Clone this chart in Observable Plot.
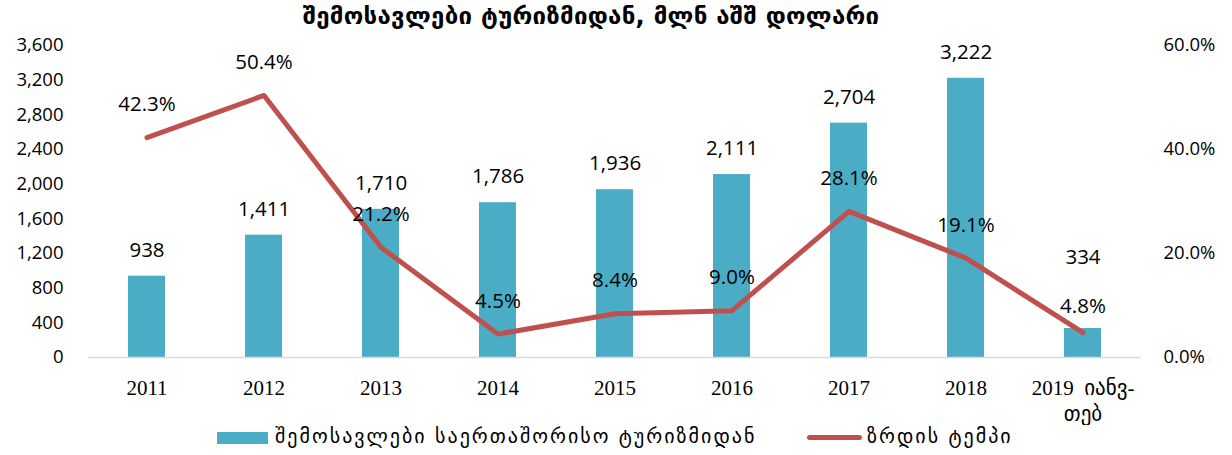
<!DOCTYPE html>
<html><head><meta charset="utf-8">
<script src="https://cdn.jsdelivr.net/npm/d3@7"></script>
<script src="https://cdn.jsdelivr.net/npm/@observablehq/plot@0.6"></script>
<style>
body{margin:0;background:#fff;width:1232px;height:455px;position:relative;overflow:hidden;font-family:"DejaVu Sans",sans-serif;}
#title{position:absolute;top:2px;left:0;width:1182px;text-align:center;font-weight:bold;font-size:24px;letter-spacing:0.3px;color:#000;z-index:2;}
#chart{position:absolute;top:25px;left:0;z-index:1;}
.leg{position:absolute;font-size:20px;letter-spacing:2px;color:#000;white-space:nowrap;}
</style></head><body>
<div id="title">შემოსავლები ტურიზმიდან, მლნ აშშ დოლარი</div>
<div id="chart"></div>
<div class="leg" style="left:217px;top:432px;width:51px;height:12px;background:#4BACC6"></div>
<div class="leg" style="left:275px;top:424px;">შემოსავლები საერთაშორისო ტურიზმიდან</div>
<div class="leg" style="left:807px;top:435px;width:55px;height:5px;background:#C0504D;border-radius:2.5px"></div>
<div class="leg" style="left:867px;top:424px;">ზრდის ტემპი</div>
<script>
const categories = ["2011","2012","2013","2014","2015","2016","2017","2018","2019  იანვ-\nთებ"];
const revenue = [938,1411,1710,1786,1936,2111,2704,3222,334];
const growth = [42.3,50.4,21.2,4.5,8.4,9.0,28.1,19.1,4.8];
const leftTicks = [0,400,800,1200,1600,2000,2400,2800,3200,3600];
const rightTicks = [0,20,40,60];

const K = 3600/60;
const data = categories.map((c,i)=>({cat:c, rev:revenue[i], g:growth[i], gy:growth[i]*K, last:i===categories.length-1}));
const fmt = d3.format(",");
const tickFont = "'Open Sans', 'DejaVu Sans', sans-serif";
const main = data.filter(d=>!d.last), tail = data.filter(d=>d.last);

const chart = Plot.plot({
  width:1232, height:400,
  marginLeft:88, marginRight:91, marginTop:20, marginBottom:68,
  style:{fontSize:"18px", fontFamily:tickFont, color:"#000", background:"transparent"},
  x:{type:"band", domain:categories, paddingInner:0.68, paddingOuter:0.34},
  y:{domain:[0,3600]},
  marks:[
    Plot.axisY({ticks:leftTicks, tickFormat:fmt, tickSize:0, tickPadding:25, label:null, fontSize:18.5}),
    Plot.axisY({anchor:"right", ticks:rightTicks.map(v=>v*K), tickFormat:d=>(d/K).toFixed(1)+"%", tickSize:0, tickPadding:22, label:null, fontSize:18.5, textAnchor:"start"}),
    Plot.axisX({tickSize:0, tickPadding:20, label:null, fontSize:21, fontFamily:"'Liberation Serif', 'DejaVu Sans', serif", lineHeight:1.2}),
    Plot.barY(data,{x:"cat", y:"rev", fill:"#4BACC6"}),
    Plot.ruleY([0],{stroke:"#d9d9d9", strokeWidth:1.5}),
    Plot.line(data,{x:"cat", y:"gy", stroke:"#C0504D", strokeWidth:5}),
    Plot.text(main,{x:"cat", y:"rev", text:d=>fmt(d.rev), dy:-26, fontSize:20.5}),
    Plot.text(tail,{x:"cat", y:"rev", text:d=>fmt(d.rev), dy:-71, fontSize:20.5}),
    Plot.text(main,{x:"cat", y:"gy", text:d=>d.g.toFixed(1)+"%", dy:-33, fontSize:20.5}),
    Plot.text(tail,{x:"cat", y:"gy", text:d=>d.g.toFixed(1)+"%", dy:-26, fontSize:20.5})
  ]
});
document.getElementById("chart").appendChild(chart);
</script>
</body></html>
